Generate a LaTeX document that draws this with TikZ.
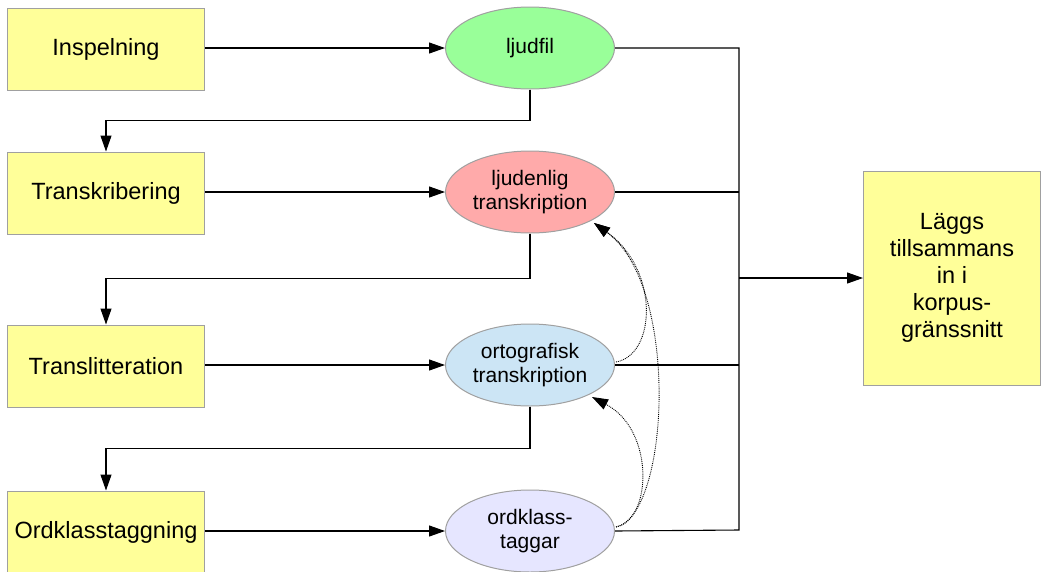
\documentclass[tikz,border=0pt]{standalone}
\usepackage{fontspec}
\setmainfont{Liberation Sans}
\usetikzlibrary{shapes.geometric,arrows.meta}
\definecolor{boxyellow}{HTML}{FFFF99}
\definecolor{egreen}{HTML}{99FF99}
\definecolor{ered}{HTML}{FFAAAA}
\definecolor{eblue}{HTML}{CCE5F5}
\definecolor{epurple}{HTML}{E6E6FF}
\definecolor{bordergray}{HTML}{A0A0A0}
\tikzset{
  stepbox/.style={draw=bordergray, line width=1pt, fill=boxyellow, minimum width=197pt, minimum height=82pt, inner sep=0pt, align=center, font=\fontsize{23.5}{27}\selectfont},
  resbox/.style={stepbox, minimum width=177pt, minimum height=214pt},
  dataell/.style={ellipse, draw=bordergray, line width=1pt, minimum width=169pt, minimum height=82pt, inner sep=0pt, align=center, font=\fontsize{21}{24.5}\selectfont},
  conn/.style={line width=1.1pt, -{Triangle[length=16pt,width=11pt]}},
  plain/.style={line width=1.1pt},
  dep/.style={line width=0.9pt, densely dotted, -{Triangle[length=16pt,width=11pt]}}
}
\begin{document}
\begin{tikzpicture}[x=1pt,y=-1pt]
\useasboundingbox (0,0) rectangle (1041,571);
\node[stepbox] (b1) at (106,49) {Inspelning};
\node[stepbox] (b2) at (106,193) {Transkribering};
\node[stepbox] (b3) at (106,366) {Translitteration};
\node[stepbox] (b4) at (106,532) {Ordklasstaggning};
\node[resbox] (res) at (952,278) {Läggs\\tillsammans\\in i\\korpus-\\gränssnitt};
\node[dataell, fill=egreen] (e1) at (530,48) {ljudfil};
\node[dataell, fill=ered] (e2) at (530,192) {ljudenlig\\transkription};
\node[dataell, fill=eblue] (e3) at (530,365) {ortografisk\\transkription};
\node[dataell, fill=epurple] (e4) at (530,531) {ordklass-\\taggar};
% step -> data
\draw[conn] (b1.east |- e1) -- (e1);
\draw[conn] (b2.east |- e2) -- (e2);
\draw[conn] (b3.east |- e3) -- (e3);
\draw[conn] (b4.east |- e4) -- (e4);
% data -> next step
\draw[conn] (e1.south) -- ++(0,31) -| (b2.north);
\draw[conn] (e2.south) -- ++(0,45) -| (b3.north);
\draw[conn] (e3.south) -- ++(0,42) -| (b4.north);
% collection line
\coordinate (jt) at (739,48);
\coordinate (jb) at (739,530);
\coordinate (jm) at (739,278);
\draw[plain] (e1.east) -- (jt) -- (jb) -- (e4.east);
\draw[plain] (e2.east) -- (e2.east -| jt);
\draw[plain] (e3.east) -- (e3.east -| jt);
\draw[conn] (jm) -- (res.west);
% dependencies
\coordinate (s3) at (616,362);
\coordinate (s4) at (616,527);
\coordinate (t2) at (594,223);
\coordinate (t3) at (592,397);
\draw[dep] (s3) .. controls (656,355) and (660,270) .. (t2);
\draw[dep] (s4) .. controls (652,520) and (655,430) .. (t3);
\draw[dep] (s4) .. controls (670,515) and (680,285) .. (t2);
\end{tikzpicture}
\end{document}
